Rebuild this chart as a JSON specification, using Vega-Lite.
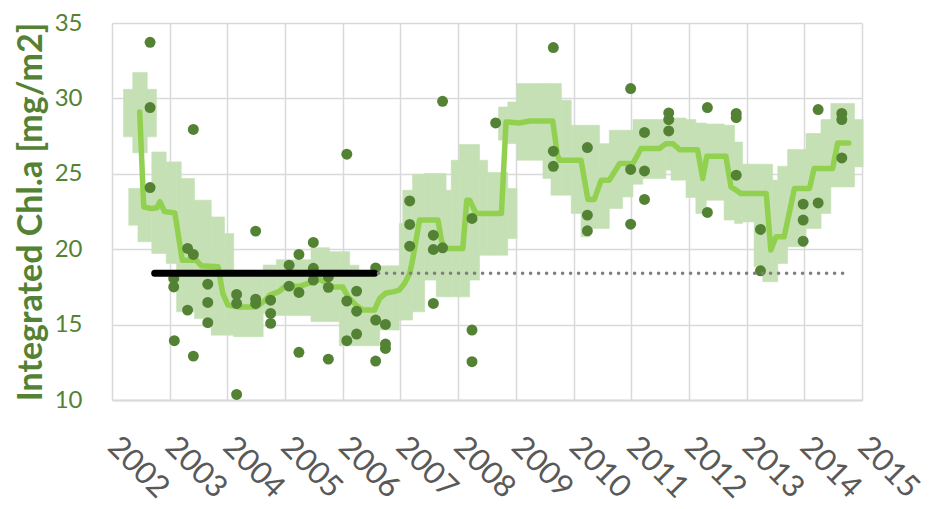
{
  "$schema": "https://vega.github.io/schema/vega-lite/v6.json",
  "width": 750,
  "height": 377,
  "autosize": "none",
  "padding": {"left": 112, "top": 23, "right": 67, "bottom": 109},
  "config": {
    "view": {"stroke": null},
    "font": "Lato",
    "axisX": {
      "labelAngle": 45, "labelAlign": "left", "labelBaseline": "middle",
      "labelFontSize": 31, "labelColor": "#595959", "labelPadding": 42,
      "labelOverlap": false, "labelFlush": false, "labelBound": false,
      "ticks": false, "domain": true, "domainColor": "#D9D9D9", "domainWidth": 2,
      "grid": true, "gridColor": "#D9D9D9", "gridWidth": 1.5
    },
    "axisY": {
      "titleFontSize": 34, "titleFontWeight": "bold", "titleColor": "#548235", "titlePadding": 6,
      "labelFontSize": 24, "labelColor": "#548235", "labelPadding": 30,
      "ticks": false, "domain": false,
      "grid": true, "gridColor": "#D9D9D9", "gridWidth": 1.5
    }
  },
  "datasets": {
    "band": [
      {"x0": 2002.20, "x1": 2002.77, "lo": 27.45, "hi": 30.6},
      {"x0": 2002.36, "x1": 2002.61, "lo": 26.39, "hi": 31.71},
      {"x0": 2002.29, "x1": 2002.45, "lo": 21.59, "hi": 24.03},
      {"x0": 2002.45, "x1": 2002.69, "lo": 20.49, "hi": 24.03},
      {"x0": 2002.69, "x1": 2002.94, "lo": 19.72, "hi": 26.45},
      {"x0": 2002.94, "x1": 2003.12, "lo": 19.06, "hi": 25.79},
      {"x0": 2003.12, "x1": 2003.20, "lo": 15.85, "hi": 25.79},
      {"x0": 2003.20, "x1": 2003.43, "lo": 15.85, "hi": 24.69},
      {"x0": 2003.43, "x1": 2003.72, "lo": 15.4, "hi": 23.25},
      {"x0": 2003.72, "x1": 2003.95, "lo": 14.3, "hi": 22.14},
      {"x0": 2003.95, "x1": 2004.11, "lo": 14.3, "hi": 21.04},
      {"x0": 2004.11, "x1": 2004.62, "lo": 14.2, "hi": 18.2},
      {"x0": 2004.62, "x1": 2004.85, "lo": 15.74, "hi": 18.95},
      {"x0": 2004.85, "x1": 2005.45, "lo": 15.6, "hi": 19.3},
      {"x0": 2005.45, "x1": 2005.77, "lo": 15.2, "hi": 20.1},
      {"x0": 2005.77, "x1": 2005.94, "lo": 15.2, "hi": 19.83},
      {"x0": 2005.94, "x1": 2006.12, "lo": 13.6, "hi": 19.83},
      {"x0": 2006.12, "x1": 2006.28, "lo": 13.6, "hi": 18.94},
      {"x0": 2006.28, "x1": 2006.64, "lo": 13.6, "hi": 18.3},
      {"x0": 2006.64, "x1": 2006.98, "lo": 14.64, "hi": 18.9},
      {"x0": 2006.98, "x1": 2007.04, "lo": 15.3, "hi": 21.7},
      {"x0": 2007.04, "x1": 2007.21, "lo": 15.3, "hi": 23.91},
      {"x0": 2007.21, "x1": 2007.42, "lo": 15.85, "hi": 24.97},
      {"x0": 2007.42, "x1": 2007.62, "lo": 17.95, "hi": 25.02},
      {"x0": 2007.62, "x1": 2007.79, "lo": 16.84, "hi": 25.02},
      {"x0": 2007.79, "x1": 2007.88, "lo": 16.84, "hi": 23.91},
      {"x0": 2007.88, "x1": 2008.02, "lo": 16.84, "hi": 25.9},
      {"x0": 2008.02, "x1": 2008.20, "lo": 16.84, "hi": 26.94},
      {"x0": 2008.20, "x1": 2008.37, "lo": 17.95, "hi": 26.94},
      {"x0": 2008.37, "x1": 2008.51, "lo": 19.6, "hi": 25.9},
      {"x0": 2008.51, "x1": 2008.86, "lo": 19.6, "hi": 25.09},
      {"x0": 2008.86, "x1": 2009.02, "lo": 20.71, "hi": 24.03},
      {"x0": 2008.70, "x1": 2008.86, "lo": 27.23, "hi": 29.43},
      {"x0": 2008.86, "x1": 2009.02, "lo": 27.0, "hi": 29.76},
      {"x0": 2009.02, "x1": 2009.47, "lo": 25.9, "hi": 30.98},
      {"x0": 2009.47, "x1": 2009.61, "lo": 24.69, "hi": 30.98},
      {"x0": 2009.61, "x1": 2009.79, "lo": 23.58, "hi": 30.98},
      {"x0": 2009.79, "x1": 2009.96, "lo": 23.58, "hi": 29.88},
      {"x0": 2009.96, "x1": 2010.13, "lo": 22.37, "hi": 28.22},
      {"x0": 2010.13, "x1": 2010.28, "lo": 20.82, "hi": 28.22},
      {"x0": 2010.28, "x1": 2010.45, "lo": 21.38, "hi": 28.22},
      {"x0": 2010.45, "x1": 2010.62, "lo": 21.38, "hi": 27.0},
      {"x0": 2010.62, "x1": 2010.85, "lo": 22.7, "hi": 27.89},
      {"x0": 2010.85, "x1": 2011.03, "lo": 23.47, "hi": 27.89},
      {"x0": 2011.03, "x1": 2011.20, "lo": 24.31, "hi": 28.6},
      {"x0": 2011.20, "x1": 2011.60, "lo": 24.69, "hi": 28.6},
      {"x0": 2011.60, "x1": 2011.69, "lo": 25.24, "hi": 28.6},
      {"x0": 2011.69, "x1": 2011.95, "lo": 24.58, "hi": 28.7},
      {"x0": 2011.95, "x1": 2012.12, "lo": 23.43, "hi": 28.6},
      {"x0": 2012.12, "x1": 2012.30, "lo": 22.37, "hi": 28.37},
      {"x0": 2012.30, "x1": 2012.61, "lo": 23.25, "hi": 28.3},
      {"x0": 2012.61, "x1": 2012.79, "lo": 21.93, "hi": 28.22},
      {"x0": 2012.79, "x1": 2012.93, "lo": 21.71, "hi": 27.11},
      {"x0": 2012.93, "x1": 2013.13, "lo": 21.81, "hi": 25.64},
      {"x0": 2013.13, "x1": 2013.28, "lo": 18.83, "hi": 25.64},
      {"x0": 2013.28, "x1": 2013.45, "lo": 17.84, "hi": 25.64},
      {"x0": 2013.45, "x1": 2013.54, "lo": 17.84, "hi": 24.58},
      {"x0": 2013.54, "x1": 2013.71, "lo": 19.06, "hi": 25.5},
      {"x0": 2013.71, "x1": 2014.03, "lo": 20.16, "hi": 26.61},
      {"x0": 2014.03, "x1": 2014.29, "lo": 21.38, "hi": 27.67},
      {"x0": 2014.29, "x1": 2014.46, "lo": 22.37, "hi": 28.6},
      {"x0": 2014.46, "x1": 2014.87, "lo": 24.13, "hi": 29.66},
      {"x0": 2014.87, "x1": 2015.02, "lo": 25.46, "hi": 28.6}
    ],
    "trend": [
      {"year": 2002.48, "v": 29.1}, {"year": 2002.55, "v": 22.8}, {"year": 2002.68, "v": 22.7},
      {"year": 2002.78, "v": 22.75}, {"year": 2002.83, "v": 23.15}, {"year": 2002.91, "v": 22.5},
      {"year": 2003.09, "v": 22.4}, {"year": 2003.20, "v": 19.7}, {"year": 2003.22, "v": 19.27},
      {"year": 2003.46, "v": 19.27}, {"year": 2003.55, "v": 18.9}, {"year": 2003.84, "v": 18.83},
      {"year": 2003.92, "v": 17.07}, {"year": 2004.01, "v": 16.29}, {"year": 2004.20, "v": 16.16},
      {"year": 2004.50, "v": 16.16}, {"year": 2004.65, "v": 16.6}, {"year": 2004.73, "v": 16.94},
      {"year": 2004.90, "v": 17.2}, {"year": 2005.02, "v": 17.6}, {"year": 2005.25, "v": 17.53},
      {"year": 2005.43, "v": 17.77}, {"year": 2005.60, "v": 18.0}, {"year": 2005.83, "v": 17.5},
      {"year": 2006.00, "v": 17.5}, {"year": 2006.09, "v": 16.84}, {"year": 2006.23, "v": 16.29},
      {"year": 2006.35, "v": 15.96}, {"year": 2006.55, "v": 15.96}, {"year": 2006.64, "v": 16.74},
      {"year": 2006.75, "v": 17.1}, {"year": 2006.87, "v": 17.17}, {"year": 2006.98, "v": 17.29},
      {"year": 2007.07, "v": 17.73}, {"year": 2007.16, "v": 18.39}, {"year": 2007.21, "v": 19.27},
      {"year": 2007.33, "v": 21.93}, {"year": 2007.65, "v": 21.93}, {"year": 2007.71, "v": 20.6},
      {"year": 2007.76, "v": 20.05}, {"year": 2008.08, "v": 20.05}, {"year": 2008.15, "v": 23.25},
      {"year": 2008.20, "v": 23.25}, {"year": 2008.31, "v": 22.37}, {"year": 2008.75, "v": 22.37},
      {"year": 2008.83, "v": 28.44}, {"year": 2009.06, "v": 28.37}, {"year": 2009.24, "v": 28.5},
      {"year": 2009.64, "v": 28.5}, {"year": 2009.72, "v": 26.23}, {"year": 2009.76, "v": 25.9},
      {"year": 2010.13, "v": 25.9}, {"year": 2010.25, "v": 23.3}, {"year": 2010.36, "v": 23.3},
      {"year": 2010.48, "v": 24.58}, {"year": 2010.62, "v": 24.58}, {"year": 2010.80, "v": 25.68},
      {"year": 2011.03, "v": 25.68}, {"year": 2011.17, "v": 26.68}, {"year": 2011.49, "v": 26.68},
      {"year": 2011.60, "v": 27.0}, {"year": 2011.72, "v": 27.0}, {"year": 2011.84, "v": 26.6},
      {"year": 2012.15, "v": 26.6}, {"year": 2012.24, "v": 24.69}, {"year": 2012.31, "v": 26.17},
      {"year": 2012.64, "v": 26.17}, {"year": 2012.73, "v": 24.13}, {"year": 2012.82, "v": 23.91},
      {"year": 2012.90, "v": 23.69}, {"year": 2013.34, "v": 23.69}, {"year": 2013.42, "v": 19.94},
      {"year": 2013.51, "v": 20.82}, {"year": 2013.65, "v": 20.82}, {"year": 2013.83, "v": 24.03},
      {"year": 2014.09, "v": 24.03}, {"year": 2014.17, "v": 25.35}, {"year": 2014.49, "v": 25.35},
      {"year": 2014.58, "v": 27.05}, {"year": 2014.77, "v": 27.05}
    ],
    "obs": [
      {"year": 2002.66, "v": 33.72}, {"year": 2002.66, "v": 29.39}, {"year": 2002.66, "v": 24.09},
      {"year": 2003.41, "v": 27.94}, {"year": 2003.31, "v": 20.05}, {"year": 2003.41, "v": 19.65},
      {"year": 2003.07, "v": 18.06}, {"year": 2003.07, "v": 17.5}, {"year": 2003.66, "v": 17.68},
      {"year": 2003.66, "v": 16.47}, {"year": 2003.66, "v": 15.13}, {"year": 2003.31, "v": 15.96},
      {"year": 2003.08, "v": 13.93}, {"year": 2003.41, "v": 12.91}, {"year": 2004.16, "v": 10.37},
      {"year": 2004.16, "v": 17.0}, {"year": 2004.16, "v": 16.4}, {"year": 2004.49, "v": 21.2},
      {"year": 2004.49, "v": 16.69}, {"year": 2004.49, "v": 16.4}, {"year": 2004.75, "v": 16.62},
      {"year": 2004.75, "v": 15.74}, {"year": 2004.75, "v": 15.08}, {"year": 2005.07, "v": 18.94},
      {"year": 2005.07, "v": 17.55}, {"year": 2005.24, "v": 19.65}, {"year": 2005.24, "v": 17.13},
      {"year": 2005.24, "v": 13.16}, {"year": 2005.49, "v": 20.45}, {"year": 2005.49, "v": 18.73},
      {"year": 2005.49, "v": 17.95}, {"year": 2005.75, "v": 18.17}, {"year": 2005.75, "v": 17.47},
      {"year": 2005.75, "v": 12.71}, {"year": 2006.07, "v": 26.3}, {"year": 2006.07, "v": 16.56},
      {"year": 2006.07, "v": 13.93}, {"year": 2006.24, "v": 17.22}, {"year": 2006.24, "v": 15.89},
      {"year": 2006.24, "v": 14.37}, {"year": 2006.57, "v": 18.76}, {"year": 2006.57, "v": 15.3},
      {"year": 2006.57, "v": 12.58}, {"year": 2006.74, "v": 15.01}, {"year": 2006.74, "v": 13.71},
      {"year": 2006.74, "v": 13.42}, {"year": 2007.16, "v": 23.2}, {"year": 2007.16, "v": 21.64},
      {"year": 2007.16, "v": 20.2}, {"year": 2007.57, "v": 20.93}, {"year": 2007.57, "v": 19.98},
      {"year": 2007.57, "v": 16.4}, {"year": 2007.73, "v": 29.81}, {"year": 2007.73, "v": 20.09},
      {"year": 2008.24, "v": 22.04}, {"year": 2008.24, "v": 14.64}, {"year": 2008.24, "v": 12.54},
      {"year": 2008.65, "v": 28.37}, {"year": 2009.65, "v": 33.37}, {"year": 2009.65, "v": 26.5},
      {"year": 2009.65, "v": 25.5}, {"year": 2010.24, "v": 26.74}, {"year": 2010.24, "v": 22.26},
      {"year": 2010.24, "v": 21.22}, {"year": 2010.99, "v": 30.65}, {"year": 2010.99, "v": 25.29},
      {"year": 2010.99, "v": 21.66}, {"year": 2011.23, "v": 27.74}, {"year": 2011.23, "v": 25.19},
      {"year": 2011.23, "v": 23.3}, {"year": 2011.65, "v": 29.04}, {"year": 2011.65, "v": 28.6},
      {"year": 2011.65, "v": 27.84}, {"year": 2012.32, "v": 29.39}, {"year": 2012.32, "v": 22.44},
      {"year": 2012.82, "v": 29.0}, {"year": 2012.82, "v": 28.73}, {"year": 2012.82, "v": 24.91},
      {"year": 2013.24, "v": 21.31}, {"year": 2013.24, "v": 18.57}, {"year": 2013.98, "v": 22.99},
      {"year": 2013.98, "v": 21.93}, {"year": 2013.98, "v": 20.53}, {"year": 2014.24, "v": 29.26},
      {"year": 2014.24, "v": 23.07}, {"year": 2014.65, "v": 29.0}, {"year": 2014.65, "v": 28.6},
      {"year": 2014.65, "v": 26.05}
    ],
    "baseline": [{"x0": 2002.74, "x1": 2006.55, "v": 18.4}],
    "baselineExt": [{"x0": 2006.62, "x1": 2014.69, "v": 18.4}]
  },
  "layer": [
    {
      "data": {"name": "band"},
      "mark": {"type": "rect", "color": "#C5E0B4", "stroke": "#C5E0B4", "strokeWidth": 0.6},
      "encoding": {
        "x": {
          "field": "x0", "type": "quantitative", "title": null,
          "scale": {"domain": [2002, 2015], "nice": false, "zero": false},
          "axis": {"values": [2002, 2003, 2004, 2005, 2006, 2007, 2008, 2009, 2010, 2011, 2012, 2013, 2014, 2015], "format": "d"}
        },
        "x2": {"field": "x1"},
        "y": {
          "field": "lo", "type": "quantitative", "title": "Integrated Chl.a [mg/m2]",
          "scale": {"domain": [10, 35], "nice": false, "zero": false},
          "axis": {"values": [10, 15, 20, 25, 30, 35]}
        },
        "y2": {"field": "hi"}
      }
    },
    {
      "data": {"name": "trend"},
      "mark": {"type": "line", "color": "#92D050", "strokeWidth": 5.5, "strokeJoin": "round", "strokeCap": "round"},
      "encoding": {
        "x": {"field": "year", "type": "quantitative", "title": null,
          "axis": {"values": [2002, 2003, 2004, 2005, 2006, 2007, 2008, 2009, 2010, 2011, 2012, 2013, 2014, 2015], "format": "d"}},
        "y": {"field": "v", "type": "quantitative", "title": "Integrated Chl.a [mg/m2]",
          "axis": {"values": [10, 15, 20, 25, 30, 35]}}
      }
    },
    {
      "data": {"name": "obs"},
      "mark": {"type": "circle", "color": "#548235", "size": 120, "opacity": 1},
      "encoding": {
        "x": {"field": "year", "type": "quantitative", "title": null,
          "axis": {"values": [2002, 2003, 2004, 2005, 2006, 2007, 2008, 2009, 2010, 2011, 2012, 2013, 2014, 2015], "format": "d"}},
        "y": {"field": "v", "type": "quantitative", "title": "Integrated Chl.a [mg/m2]",
          "axis": {"values": [10, 15, 20, 25, 30, 35]}}
      }
    },
    {
      "data": {"name": "baseline"},
      "mark": {"type": "rule", "color": "#000000", "strokeWidth": 7, "strokeCap": "round"},
      "encoding": {
        "x": {"field": "x0", "type": "quantitative", "title": null,
          "axis": {"values": [2002, 2003, 2004, 2005, 2006, 2007, 2008, 2009, 2010, 2011, 2012, 2013, 2014, 2015], "format": "d"}},
        "x2": {"field": "x1"},
        "y": {"field": "v", "type": "quantitative", "title": "Integrated Chl.a [mg/m2]",
          "axis": {"values": [10, 15, 20, 25, 30, 35]}}
      }
    },
    {
      "data": {"name": "baselineExt"},
      "mark": {"type": "rule", "color": "#7F7F7F", "strokeWidth": 3.5, "strokeCap": "round", "strokeDash": [0.1, 7.9]},
      "encoding": {
        "x": {"field": "x0", "type": "quantitative", "title": null,
          "axis": {"values": [2002, 2003, 2004, 2005, 2006, 2007, 2008, 2009, 2010, 2011, 2012, 2013, 2014, 2015], "format": "d"}},
        "x2": {"field": "x1"},
        "y": {"field": "v", "type": "quantitative", "title": "Integrated Chl.a [mg/m2]",
          "axis": {"values": [10, 15, 20, 25, 30, 35]}}
      }
    }
  ]
}
